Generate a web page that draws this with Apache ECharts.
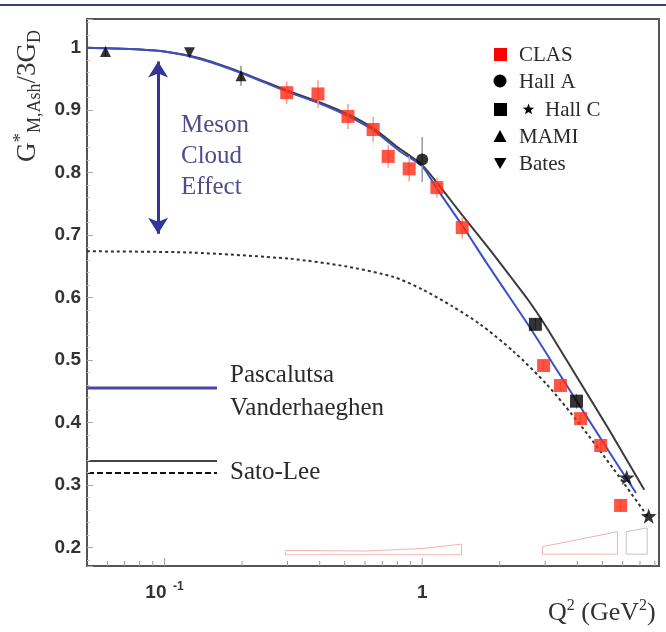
<!DOCTYPE html>
<html>
<head>
<meta charset="utf-8">
<script src="https://cdn.jsdelivr.net/npm/echarts@6/dist/echarts.min.js"></script>
<style>
html, body { margin: 0; padding: 0; background: #fff; }
#chart { width: 666px; height: 632px; }
</style>
</head>
<body>
<div id="chart"></div>
<script>
// ---- measured form-factor ratio G*_M,Ash / 3G_D versus Q^2 (GeV^2) ----
const clasQ2  = [0.298, 0.394, 0.515, 0.645, 0.738, 0.890, 1.14, 1.43, 2.96, 3.44, 4.12, 4.93, 5.89];
const clasG   = [0.928, 0.926, 0.890, 0.869, 0.826, 0.806, 0.776, 0.712, 0.491, 0.459, 0.406, 0.363, 0.267];
const clasErr = [0.018, 0.022, 0.020, 0.020, 0.018, 0.020, 0.016, 0.018, 0.008, 0.008, 0.008, 0.008, 0.010];

const hallAQ2  = [1.0];
const hallAG   = [0.821];
const hallAErr = [0.036];

const hallCSqQ2  = [2.75, 3.97];
const hallCSqG   = [0.557, 0.434];
const hallCSqErr = [0.010, 0.012];
const hallCStarQ2 = [6.22, 7.57];
const hallCStarG  = [0.312, 0.250];

const mamiQ2  = [0.059, 0.198];
const mamiG   = [0.994, 0.955];
const mamiErr = [0.008, 0.016];

const batesQ2 = [0.125];
const batesG  = [0.992];

// ---- model curves ----
const pvQ2 = [0.05, 0.073, 0.1, 0.137, 0.197, 0.297, 0.392, 0.512, 0.64, 0.814, 1.0, 1.133, 1.416, 1.82, 2.6, 3.39, 4.43, 5.55, 6.76];
const pvG  = [1.000, 0.998, 0.994, 0.982, 0.960, 0.930, 0.912, 0.891, 0.869, 0.835, 0.810, 0.776, 0.718, 0.649, 0.554, 0.479, 0.404, 0.341, 0.287];

const slQ2 = [0.05, 0.073, 0.1, 0.137, 0.197, 0.297, 0.392, 0.512, 0.64, 0.814, 1.0, 1.144, 1.43, 1.836, 2.196, 2.579, 2.976, 3.926, 5.369, 7.274];
const slG  = [1.000, 0.998, 0.994, 0.983, 0.961, 0.932, 0.914, 0.894, 0.872, 0.839, 0.812, 0.783, 0.732, 0.676, 0.634, 0.596, 0.558, 0.477, 0.385, 0.292];

const slBareQ2 = [0.05, 0.126, 0.307, 0.503, 0.772, 1.0, 1.308, 1.68, 2.256, 3.057, 4.106, 5.514, 7.54];
const slBareG  = [0.674, 0.672, 0.662, 0.650, 0.633, 0.613, 0.586, 0.557, 0.514, 0.460, 0.396, 0.326, 0.248];

// ---- systematic-error outlines along the bottom ----
const sysClasQ2 = [0.295, 0.295, 0.6, 1.0, 1.42, 1.42, 0.295];
const sysClasG  = [0.188, 0.195, 0.194, 0.198, 0.205, 0.188, 0.188];
const sysClasHiQ2 = [2.93, 2.93, 4.0, 5.73, 5.73, 2.93];
const sysClasHiG  = [0.189, 0.201, 0.212, 0.225, 0.189, 0.189];
const sysHallCQ2 = [6.19, 6.19, 7.47, 7.47, 6.19];
const sysHallCG  = [0.189, 0.225, 0.231, 0.189, 0.189];

// ---- meson-cloud arrow ends ----
const arrowQ2 = 0.0944;
const arrowG  = [0.978, 0.702];

// ---- axis ticks ----
const xMajorTicks = [0.1, 1];
const xMinorTicks = [0.06, 0.07, 0.08, 0.09, 0.2, 0.3, 0.4, 0.5, 0.6, 0.7, 0.8, 0.9, 2, 3, 4, 5, 6, 7, 8];
const X_MIN = 0.05, X_MAX = 8.3, Y_MIN = 0.17, Y_MAX = 1.046;

const zip = (xs, ys) => xs.map((x, i) => [x, ys[i]]);
const errData = (xs, ys, es) => xs.map((x, i) => [x, ys[i] - es[i], ys[i] + es[i]]);

function errRender(color, width) {
  return function (params, api) {
    const a = api.coord([api.value(0), api.value(1)]);
    const b = api.coord([api.value(0), api.value(2)]);
    return { type: 'line', shape: { x1: a[0], y1: a[1], x2: b[0], y2: b[1] },
             style: { stroke: color, lineWidth: width } };
  };
}
function tickRender(len) {
  return function (params, api) {
    const p = api.coord([api.value(0), Y_MIN]);
    return { type: 'line', shape: { x1: p[0], y1: p[1], x2: p[0], y2: p[1] - len },
             style: { stroke: '#9a9a9a', lineWidth: 1 } };
  };
}

const STAR = 'path://M0,-10 L2.35,-3.24 L9.51,-3.09 L3.8,1.24 L5.88,8.09 L0,4 L-5.88,8.09 L-3.8,1.24 L-9.51,-3.09 L-2.35,-3.24 Z';

function starPts(cx, cy, R, r) {
  const pts = [];
  for (let i = 0; i < 10; i++) {
    const a = -Math.PI / 2 + i * Math.PI / 5;
    const rad = i % 2 ? r : R;
    pts.push([cx + rad * Math.cos(a), cy + rad * Math.sin(a)]);
  }
  return pts;
}

const SERIF = 'Liberation Serif';
const SANS = 'Liberation Sans';
function plainText(x, y, t, size, color) {
  return { type: 'text', x: x, y: y,
    style: { text: t, fontSize: size, fontFamily: SERIF, fill: color || '#2a2a2a',
             align: 'left', verticalAlign: 'middle' } };
}

const chart = echarts.init(document.getElementById('chart'), null, { renderer: 'canvas' });

chart.setOption({
  animation: false,
  backgroundColor: '#fff',
  grid: { left: 87, right: 7, top: 19, bottom: 66, show: true, borderColor: '#555', borderWidth: 2 },
  xAxis: {
    type: 'log', logBase: 10, min: X_MIN, max: X_MAX,
    axisLine: { show: false }, axisTick: { show: false }, splitLine: { show: false },
    axisLabel: {
      margin: 15,
      formatter: function (v) {
        if (Math.abs(v - 0.1) < 1e-6) return '{b|10}{s|  -1}';
        if (Math.abs(v - 1) < 1e-6) return '{b|1}';
        return '';
      },
      rich: {
        b: { fontSize: 19, fontWeight: 'bold', fontFamily: SANS, color: '#333', lineHeight: 24 },
        s: { fontSize: 12, fontWeight: 'bold', fontFamily: SANS, color: '#333', lineHeight: 4, verticalAlign: 'top' }
      }
    }
  },
  yAxis: {
    type: 'value', min: Y_MIN, max: Y_MAX, splitNumber: 9,
    axisLine: { show: false }, splitLine: { show: false },
    axisTick: { show: true, inside: true, length: 6, lineStyle: { color: '#aaa' } },
    minorTick: { show: true, splitNumber: 5, length: 3, lineStyle: { color: '#c8c8c8' } },
    axisLabel: {
      margin: 6, showMinLabel: false, showMaxLabel: false,
      fontSize: 19, fontWeight: 'bold', fontFamily: SANS, color: '#333',
      formatter: v => (Math.abs(v - 1) < 1e-6 ? '1' : v.toFixed(1))
    }
  },
  series: [
    // systematic outlines
    { type: 'line', data: zip(sysClasQ2, sysClasG), symbol: 'none', silent: true, z: 1,
      lineStyle: { color: '#f2b4b0', width: 1 } },
    { type: 'line', data: zip(sysClasHiQ2, sysClasHiG), symbol: 'none', silent: true, z: 1,
      lineStyle: { color: '#f2b4b0', width: 1 } },
    { type: 'line', data: zip(sysHallCQ2, sysHallCG), symbol: 'none', silent: true, z: 1,
      lineStyle: { color: '#c4c4c4', width: 1 } },
    // x-axis ticks on the log scale
    { type: 'custom', renderItem: tickRender(5), data: xMinorTicks.map(v => [v, Y_MIN]),
      encode: { x: 0, y: 1 }, clip: false, silent: true, z: 3 },
    { type: 'custom', renderItem: tickRender(8), data: xMajorTicks.map(v => [v, Y_MIN]),
      encode: { x: 0, y: 1 }, clip: false, silent: true, z: 3 },
    // model curves
    { name: 'Sato-Lee bare', type: 'line', data: zip(slBareQ2, slBareG), symbol: 'none', smooth: 0.25, z: 2,
      lineStyle: { color: '#333', width: 2, type: [3, 3] } },
    { name: 'Sato-Lee', type: 'line', data: zip(slQ2, slG), symbol: 'none', smooth: 0.25, z: 2,
      lineStyle: { color: '#3a3a3a', width: 2 } },
    { name: 'Pascalutsa-Vanderhaeghen', type: 'line', data: zip(pvQ2, pvG), symbol: 'none', smooth: 0.25, z: 2,
      lineStyle: { color: '#3c4fc4', width: 2 },
      markLine: {
        silent: true, symbol: ['arrow', 'arrow'], symbolSize: [15, 16],
        label: { show: false },
        lineStyle: { color: '#34349a', width: 3, type: 'solid' },
        data: [[{ coord: [arrowQ2, arrowG[0]] }, { coord: [arrowQ2, arrowG[1]] }]]
      } },
    // error bars
    { type: 'custom', renderItem: errRender('#ff9a8c', 1.5), data: errData(clasQ2, clasG, clasErr),
      encode: { x: 0, y: [1, 2] }, z: 4, silent: true },
    { type: 'custom', renderItem: errRender('#9a9a9a', 1.5), data: errData(hallAQ2, hallAG, hallAErr),
      encode: { x: 0, y: [1, 2] }, z: 4, silent: true },
    { type: 'custom', renderItem: errRender('#888', 1), data: errData(hallCSqQ2, hallCSqG, hallCSqErr),
      encode: { x: 0, y: [1, 2] }, z: 4, silent: true },
    { type: 'custom', renderItem: errRender('#555', 1), data: errData(mamiQ2, mamiG, mamiErr),
      encode: { x: 0, y: [1, 2] }, z: 4, silent: true },
    // data points
    { name: 'CLAS', type: 'scatter', data: zip(clasQ2, clasG), symbol: 'rect', symbolSize: 13, z: 5,
      itemStyle: { color: '#ff2b14' } },
    { name: 'Hall A', type: 'scatter', data: zip(hallAQ2, hallAG), symbol: 'circle', symbolSize: 12, z: 5,
      itemStyle: { color: '#000' } },
    { name: 'Hall C', type: 'scatter', data: zip(hallCSqQ2, hallCSqG), symbol: 'rect', symbolSize: 13, z: 5,
      itemStyle: { color: '#000' } },
    { name: 'Hall C star', type: 'scatter', data: zip(hallCStarQ2, hallCStarG), symbol: STAR, symbolSize: 16,
      symbolKeepAspect: true, z: 5, itemStyle: { color: '#000' } },
    { name: 'MAMI', type: 'scatter', data: zip(mamiQ2, mamiG), symbol: 'triangle', symbolSize: 11, z: 5,
      itemStyle: { color: '#000' } },
    { name: 'Bates', type: 'scatter', data: zip(batesQ2, batesG), symbol: 'triangle', symbolRotate: 180,
      symbolSize: 11, z: 5, itemStyle: { color: '#000' } }
  ],
  graphic: [
    // header rule
    { type: 'line', shape: { x1: 0, y1: 5, x2: 666, y2: 5 }, style: { stroke: '#3c3c8c', lineWidth: 2 } },
    // y-axis title
    { type: 'text', x: 28, y: 96, rotation: Math.PI / 2,
      style: {
        text: '{m|G}{sup|*}{sub|M,Ash}{m|/3G}{sub|D}',
        align: 'center', verticalAlign: 'middle',
        rich: {
          m:   { fontSize: 27, fontFamily: SERIF, fill: '#333', lineHeight: 32 },
          sup: { fontSize: 19, fontFamily: SERIF, fill: '#333', lineHeight: 19, verticalAlign: 'top' },
          sub: { fontSize: 18, fontFamily: SERIF, fill: '#333', lineHeight: 18, verticalAlign: 'bottom' }
        }
      } },
    // x-axis title
    { type: 'text', x: 548, y: 613,
      style: {
        text: '{n|Q}{s|2}{n| (GeV}{s|2}{n|)}',
        align: 'left', verticalAlign: 'middle',
        rich: {
          n: { fontSize: 26, fontFamily: SERIF, fill: '#333', lineHeight: 30 },
          s: { fontSize: 16, fontFamily: SERIF, fill: '#333', lineHeight: 16, verticalAlign: 'top' }
        }
      } },
    // meson cloud annotation
    { type: 'text', x: 181, y: 156,
      style: { text: 'Meson\nCloud\nEffect', fontSize: 25, fontFamily: SERIF, lineHeight: 31,
               fill: '#4d4d8c', align: 'left', verticalAlign: 'middle' } },
    // model legend
    { type: 'line', shape: { x1: 88, y1: 388, x2: 217, y2: 388 }, style: { stroke: '#4646a6', lineWidth: 3 } },
    plainText(230, 375, 'Pascalutsa', 25),
    plainText(230, 408, 'Vanderhaeghen', 25),
    { type: 'line', shape: { x1: 88, y1: 461, x2: 217, y2: 461 }, style: { stroke: '#444', lineWidth: 2 } },
    { type: 'line', shape: { x1: 88, y1: 473, x2: 217, y2: 473 }, style: { stroke: '#111', lineWidth: 2, lineDash: [6, 3] } },
    plainText(230, 472, 'Sato-Lee', 25),
    // data legend
    { type: 'rect', shape: { x: 494, y: 48, width: 13, height: 13 }, style: { fill: '#ff0000' } },
    plainText(519, 55, 'CLAS', 21),
    { type: 'circle', shape: { cx: 500, cy: 81, r: 6.5 }, style: { fill: '#000' } },
    plainText(519, 82, 'Hall A', 21),
    { type: 'rect', shape: { x: 494, y: 103, width: 13, height: 13 }, style: { fill: '#000' } },
    { type: 'polygon', shape: { points: starPts(528.5, 109.5, 6, 2.5) }, style: { fill: '#000' } },
    plainText(545, 110, 'Hall C', 21),
    { type: 'polygon', shape: { points: [[500, 130], [506.5, 142], [493.5, 142]] }, style: { fill: '#000' } },
    plainText(519, 137, 'MAMI', 21),
    { type: 'polygon', shape: { points: [[494, 158], [506.5, 158], [500, 169]] }, style: { fill: '#000' } },
    plainText(519, 164, 'Bates', 21)
  ]
});
</script>
</body>
</html>
